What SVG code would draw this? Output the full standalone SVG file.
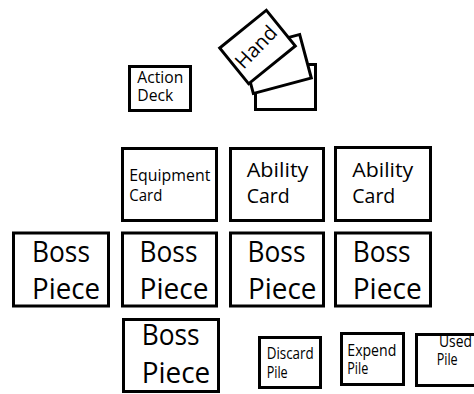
<svg xmlns="http://www.w3.org/2000/svg" width="474" height="394" viewBox="0 0 474 394">
<style>
rect{fill:#fff;stroke:#000;stroke-width:3}
text{font-family:"Open Sans","Noto Sans",sans-serif;fill:#000}
.b{font-size:30px}
.a{font-size:19.5px}
.s{font-size:15.5px}
</style>
<g id="connectors"/>
<g id="action-deck"><rect x="129.5" y="66.5" width="61" height="44"/><text class="s" x="137.3" y="83.3" textLength="46" lengthAdjust="spacingAndGlyphs">Action</text><text class="s" x="137.3" y="101" textLength="36" lengthAdjust="spacingAndGlyphs">Deck</text></g>
<g id="hand">
<rect x="255.5" y="64.5" width="60" height="45"/>
<rect x="-30" y="-22.5" width="60" height="45" transform="translate(276.5,64) rotate(-15)"/>
<rect x="-30" y="-23" width="60" height="46" transform="translate(257.5,47) rotate(-39)"/>
<text font-size="20" text-anchor="middle" x="0" y="7" transform="translate(256,47) rotate(-46)">Hand</text>
</g>
<g id="equipment-card"><rect x="122.5" y="148.5" width="94" height="72"/><text class="s" x="129.3" y="180.7" textLength="81" lengthAdjust="spacingAndGlyphs">Equipment</text><text class="s" x="129.3" y="201" textLength="33" lengthAdjust="spacingAndGlyphs">Card</text></g>
<g id="ability-card-1"><rect x="230.5" y="148.5" width="93" height="72"/><text class="a" x="246.7" y="176.7" textLength="61.7" lengthAdjust="spacingAndGlyphs">Ability</text><text class="a" x="246.7" y="203.3" textLength="43" lengthAdjust="spacingAndGlyphs">Card</text></g>
<g id="ability-card-2"><rect x="335.5" y="147.5" width="95" height="73"/><text class="a" x="352.3" y="176.7" textLength="61" lengthAdjust="spacingAndGlyphs">Ability</text><text class="a" x="352.3" y="203.3" textLength="43" lengthAdjust="spacingAndGlyphs">Card</text></g>
<g id="boss-1"><rect x="13.5" y="233" width="95" height="73"/><text class="b" x="32" y="262" textLength="58" lengthAdjust="spacingAndGlyphs">Boss</text><text class="b" x="32" y="299" textLength="68" lengthAdjust="spacingAndGlyphs">Piece</text></g>
<g id="boss-2"><rect x="122.5" y="233" width="94" height="73"/><text class="b" x="139.5" y="262" textLength="58" lengthAdjust="spacingAndGlyphs">Boss</text><text class="b" x="139.5" y="299" textLength="69" lengthAdjust="spacingAndGlyphs">Piece</text></g>
<g id="boss-3"><rect x="230.5" y="233" width="93" height="73"/><text class="b" x="247.5" y="262" textLength="58" lengthAdjust="spacingAndGlyphs">Boss</text><text class="b" x="248" y="299" textLength="68.5" lengthAdjust="spacingAndGlyphs">Piece</text></g>
<g id="boss-4"><rect x="335.5" y="233" width="95" height="73"/><text class="b" x="352.7" y="262" textLength="58" lengthAdjust="spacingAndGlyphs">Boss</text><text class="b" x="352.7" y="299" textLength="69" lengthAdjust="spacingAndGlyphs">Piece</text></g>
<g id="boss-5"><rect x="123.5" y="319.5" width="95" height="72"/><text class="b" x="141.7" y="345" textLength="58" lengthAdjust="spacingAndGlyphs">Boss</text><text class="b" x="141.7" y="383" textLength="68.5" lengthAdjust="spacingAndGlyphs">Piece</text></g>
<g id="discard-pile"><rect x="259.5" y="337.5" width="61" height="50"/><text class="s" x="266.7" y="359.3" textLength="47" lengthAdjust="spacingAndGlyphs">Discard</text><text class="s" x="266.7" y="377.5" textLength="21" lengthAdjust="spacingAndGlyphs">Pile</text></g>
<g id="expend-pile"><rect x="341.5" y="333.5" width="62" height="51"/><text class="s" x="347.3" y="356" textLength="49" lengthAdjust="spacingAndGlyphs">Expend</text><text class="s" x="347.3" y="374" textLength="21" lengthAdjust="spacingAndGlyphs">Pile</text></g>
<g id="used-pile"><rect x="416.5" y="334.5" width="70" height="51"/><text class="s" x="439" y="346.7" textLength="33" lengthAdjust="spacingAndGlyphs">Used</text><text class="s" x="436.7" y="365" textLength="21" lengthAdjust="spacingAndGlyphs">Pile</text></g>
</svg>
